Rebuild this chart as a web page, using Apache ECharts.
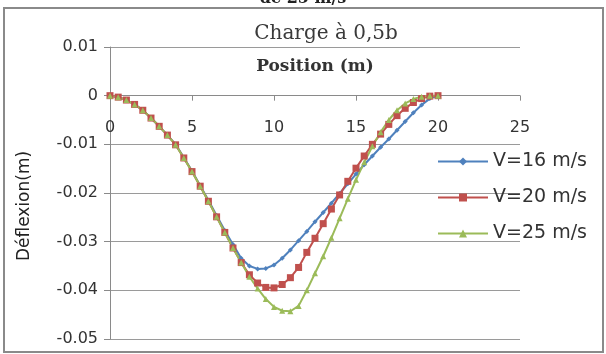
<!DOCTYPE html>
<html>
<head>
<meta charset="utf-8">
<script src="https://cdn.jsdelivr.net/npm/echarts@6/dist/echarts.min.js"></script>
<style>html,body{margin:0;padding:0;background:#fff}#c{width:606px;height:354px}</style>
</head>
<body>
<div id="c"></div>
<script>
const positions = [0,0.5,1,1.5,2,2.5,3,3.5,4,4.5,5,5.5,6,6.5,7,7.5,8,8.5,9,9.5,10,10.5,11,11.5,12,12.5,13,13.5,14,14.5,15,15.5,16,16.5,17,17.5,18,18.5,19,19.5,20];
const v16 = [0,-0.0003,-0.0009,-0.0018,-0.0030,-0.0046,-0.0063,-0.0081,-0.0100,-0.0127,-0.0155,-0.0185,-0.0215,-0.0246,-0.0277,-0.0306,-0.0334,-0.0350,-0.0356,-0.0355,-0.0348,-0.0334,-0.0317,-0.0298,-0.0279,-0.0259,-0.0240,-0.0221,-0.0201,-0.0181,-0.0161,-0.0142,-0.0124,-0.0106,-0.0089,-0.0071,-0.0053,-0.0035,-0.0019,-0.0006,0];
const v20 = [0,-0.0003,-0.0009,-0.0018,-0.0030,-0.0046,-0.0063,-0.0081,-0.0101,-0.0128,-0.0156,-0.0186,-0.0217,-0.0249,-0.0281,-0.0313,-0.0343,-0.0368,-0.0385,-0.0394,-0.0395,-0.0388,-0.0374,-0.0353,-0.0322,-0.0293,-0.0263,-0.0233,-0.0204,-0.0176,-0.0149,-0.0124,-0.0100,-0.0079,-0.0059,-0.0041,-0.0026,-0.0014,-0.0006,-0.0001,0];
const v25 = [0,-0.0003,-0.0009,-0.0018,-0.0030,-0.0046,-0.0063,-0.0081,-0.0101,-0.0128,-0.0156,-0.0186,-0.0217,-0.0249,-0.0281,-0.0313,-0.0343,-0.0372,-0.0396,-0.0418,-0.0434,-0.0442,-0.0443,-0.0432,-0.0400,-0.0365,-0.0330,-0.0292,-0.0252,-0.0212,-0.0173,-0.0137,-0.0104,-0.0075,-0.0050,-0.0030,-0.0016,-0.0007,-0.0002,0,0];
const seriesNames = ['V=16 m/s','V=20 m/s','V=25 m/s'];
const seriesValues = [v16, v20, v25];
const colors = ['#4F81BD','#C0504D','#9BBB59'];
const symbols = ['diamond','rect','triangle'];
const symbolSizes = [5,7,6];
const yMin = -0.05, yMax = 0.01;

const W = 606, H = 354;
const gridTop = 47, gridBottom = 15;
const gridH = H - gridTop - gridBottom;
const zeroOffset = -gridH * (0 - yMin) / (yMax - yMin);

const chart = echarts.init(document.getElementById('c'), null, {renderer:'canvas'});
chart.setOption({
  animation:false,
  backgroundColor:'#fff',
  title:{text:'Charge à 0,5b', left:321, top:19, textAlign:'center',
    textStyle:{fontFamily:'DejaVu Serif', fontSize:20, fontWeight:'normal', color:'#3a3a3a'}},
  graphic:[
    {type:'rect', shape:{x:4,y:8,width:599,height:344}, style:{fill:'none', stroke:'#8a8a8a', lineWidth:2}, silent:true},
    {type:'text', x:303, y:-9, style:{text:'de 25 m/s', font:'bold 16px "DejaVu Serif"', fill:'#222', textAlign:'center'}}
  ],
  legend:{orient:'vertical', left:432, top:147, itemWidth:50, itemHeight:10, itemGap:17,
    textStyle:{fontFamily:'DejaVu Sans', fontSize:19, color:'#333'},
    data:seriesNames},
  grid:{left:110, right:86, top:gridTop, bottom:gridBottom, containLabel:false, outerBoundsMode:'none'},
  xAxis:{type:'value', min:0, max:25, interval:5, position:'bottom', offset:zeroOffset,
    name:'Position (m)', nameLocation:'middle', nameGap:-38,
    nameTextStyle:{fontFamily:'DejaVu Serif', fontWeight:'bold', fontSize:17, color:'#333'},
    axisLine:{show:true, onZero:false, lineStyle:{color:'#8a8a8a'}},
    axisTick:{show:true, length:5, lineStyle:{color:'#8a8a8a'}},
    axisLabel:{fontFamily:'DejaVu Sans', fontSize:16, color:'#333', margin:24},
    splitLine:{show:false}},
  yAxis:{type:'value', min:yMin, max:yMax, interval:0.01,
    name:'Déflexion(m)', nameLocation:'middle', nameGap:77, nameRotate:90,
    nameTextStyle:{fontFamily:'DejaVu Sans', fontWeight:'normal', fontSize:17, color:'#222', padding:[0,26,0,0]},
    axisLine:{show:true, onZero:false, lineStyle:{color:'#8a8a8a'}},
    axisTick:{show:true, length:6, lineStyle:{color:'#8a8a8a'}},
    axisLabel:{fontFamily:'DejaVu Sans', fontSize:16, color:'#333', margin:12},
    splitLine:{show:true, lineStyle:{color:'#9a9a9a', width:1}}},
  series: seriesNames.map((n,i)=>({
    name:n, type:'line',
    data: positions.map((x,j)=>[x, seriesValues[i][j]]),
    symbol:symbols[i], symbolSize:symbolSizes[i], showSymbol:true,
    itemStyle:{color:colors[i]}, lineStyle:{color:colors[i], width:2}
  }))
});
</script>
</body>
</html>
